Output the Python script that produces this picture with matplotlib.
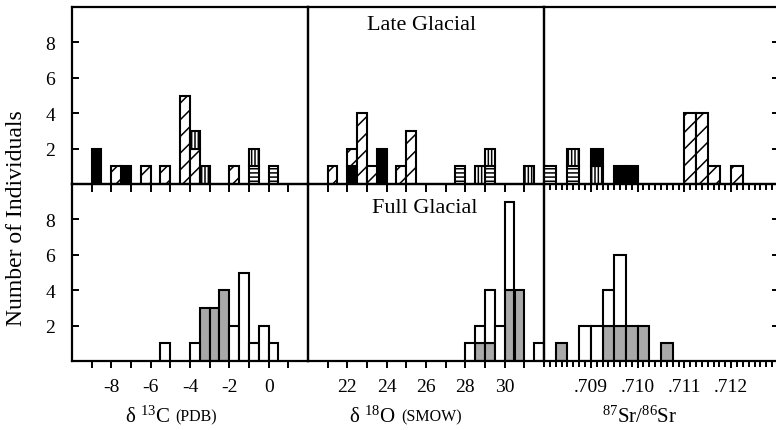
import numpy as np
import matplotlib
matplotlib.use("Agg")
import matplotlib.pyplot as plt
from matplotlib.ticker import FixedLocator, MultipleLocator

plt.rcParams['font.family'] = ['Liberation Serif', 'DejaVu Serif']
plt.rcParams['mathtext.fontset'] = 'custom'
plt.rcParams['mathtext.rm'] = 'Liberation Serif'
plt.rcParams['mathtext.it'] = 'Liberation Serif:italic'
plt.rcParams['axes.unicode_minus'] = False
plt.rcParams['hatch.linewidth'] = 1.1

# =============================================================================
# data: left edge of each bin and the counts per category

# delta 13C, late glacial (bin width 0.5)
c13_late_bins = [-9.0, -8.0, -7.5, -6.5, -5.5, -4.5, -4.0, -3.5, -2.0, -1.0, 0.0]
c13_late_black = [2, 0, 1, 0, 0, 0, 0, 0, 0, 0, 0]
c13_late_hatch = [0, 1, 0, 1, 1, 5, 2, 0, 1, 0, 0]
c13_late_horiz = [0, 0, 0, 0, 0, 0, 0, 0, 0, 1, 1]
c13_late_vert = [0, 0, 0, 0, 0, 0, 1, 1, 0, 1, 0]

# delta 13C, full glacial
c13_full_bins = [-5.5, -4.0, -3.5, -3.0, -2.5, -2.0, -1.5, -1.0, -0.5, 0.0]
c13_full_gray = [0, 0, 3, 3, 4, 0, 0, 0, 0, 0]
c13_full_white = [1, 1, 0, 0, 0, 2, 5, 1, 2, 1]

# delta 18O, late glacial (bin width 0.5)
o18_late_bins = [21.0, 22.0, 22.5, 23.0, 23.5, 24.5, 25.0, 27.5, 28.5, 29.0, 31.0]
o18_late_black = [0, 1, 0, 0, 2, 0, 0, 0, 0, 0, 0]
o18_late_hatch = [1, 1, 4, 1, 0, 1, 3, 0, 0, 0, 0]
o18_late_horiz = [0, 0, 0, 0, 0, 0, 0, 1, 0, 1, 0]
o18_late_vert = [0, 0, 0, 0, 0, 0, 0, 0, 1, 1, 1]

# delta 18O, full glacial
o18_full_bins = [28.0, 28.5, 29.0, 29.5, 30.0, 30.5, 31.5]
o18_full_gray = [0, 1, 1, 0, 4, 4, 0]
o18_full_white = [1, 1, 3, 2, 5, 0, 1]

# 87Sr/86Sr, late glacial (bin width 0.00025)
sr_late_bins = [0.708, 0.7085, 0.709, 0.7095, 0.70975, 0.711, 0.71125, 0.7115, 0.712]
sr_late_horiz = [1, 1, 0, 0, 0, 0, 0, 0, 0]
sr_late_vert = [0, 1, 1, 0, 0, 0, 0, 0, 0]
sr_late_black = [0, 0, 1, 1, 1, 0, 0, 0, 0]
sr_late_hatch = [0, 0, 0, 0, 0, 4, 4, 1, 1]

# 87Sr/86Sr, full glacial
sr_full_bins = [0.70825, 0.70875, 0.709, 0.70925, 0.7095, 0.70975, 0.710, 0.7105]
sr_full_gray = [1, 0, 0, 2, 2, 2, 2, 1]
sr_full_white = [0, 2, 2, 2, 4, 0, 0, 0]

c13_ticks = [-8, -6, -4, -2, 0]
o18_ticks = [22, 24, 26, 28, 30]
sr_ticks = [0.709, 0.710, 0.711, 0.712]
sr_labels = ['.709', '.710', '.711', '.712']
y_ticks = [2, 4, 6, 8]

# =============================================================================

STYLE = {
  'black': dict(facecolor='black'),
  'hatch': dict(facecolor='white', hatch='//'),
  'vert': dict(facecolor='white', hatch='|||||'),
  'horiz': dict(facecolor='white', hatch='----'),
  'gray': dict(facecolor='#a9a9a9'),
  'white': dict(facecolor='white'),
}


def stack(ax, bins, width, layers):
  bins = np.array(bins)
  bottom = np.zeros(len(bins))
  for counts, name in layers:
    counts = np.array(counts, dtype=float)
    keep = counts > 0
    ax.bar(bins[keep], counts[keep], width, bottom=bottom[keep], align='edge',
           edgecolor='black', linewidth=1.5, zorder=2, **STYLE[name])
    bottom += counts


def style_axis(ax, col, row):
  ax.patch.set_visible(False)
  for s in ax.spines.values():
    s.set_linewidth(1.6)
  ax.set_ylim(0, 10)
  ax.yaxis.set_major_locator(FixedLocator(y_ticks))
  if col == 0:
    ax.tick_params(axis='y', direction='in', length=5, width=1.4, labelsize=14,
                   pad=12, left=True, right=False)
  elif col == 2:
    ax.tick_params(axis='y', direction='in', length=4, width=1.4, left=False,
                   right=True, labelleft=False)
  else:
    ax.tick_params(axis='y', left=False, right=False, labelleft=False)
  ax.tick_params(axis='x', which='both', direction='out', width=1.4,
                 labelsize=14, pad=7, top=False)
  ax.tick_params(axis='x', which='major', length=6 if row == 0 else 5)
  ax.tick_params(axis='x', which='minor', length=(6 if row == 0 else 5) if col < 2 else 4)
  if row == 0:
    ax.tick_params(axis='x', which='both', labelbottom=False)


def main():
  fig = plt.figure(figsize=(7.76, 4.31), dpi=100)
  xs = [72 / 776, 308 / 776, 544 / 776, 778 / 776]
  ybot, ymid, ytop = 1 - 362 / 431, 1 - 185 / 431, 1 - 8 / 431

  axes = {}
  for row, (y0, y1) in enumerate([(ymid, ytop), (ybot, ymid)]):
    for col in range(3):
      axes[row, col] = fig.add_axes([xs[col], y0, xs[col + 1] - xs[col], y1 - y0])

  # delta 13C
  for row in range(2):
    ax = axes[row, 0]
    ax.set_xlim(-10, 2)
    ax.xaxis.set_major_locator(FixedLocator(c13_ticks))
    ax.xaxis.set_minor_locator(FixedLocator([-9, -7, -5, -3, -1, 1]))
    ax.set_xticklabels([str(t) for t in c13_ticks])
  stack(axes[0, 0], c13_late_bins, 0.5,
        [(c13_late_black, 'black'), (c13_late_hatch, 'hatch'),
         (c13_late_horiz, 'horiz'), (c13_late_vert, 'vert')])
  stack(axes[1, 0], c13_full_bins, 0.5,
        [(c13_full_gray, 'gray'), (c13_full_white, 'white')])

  # delta 18O
  for row in range(2):
    ax = axes[row, 1]
    ax.set_xlim(20, 32)
    ax.xaxis.set_major_locator(FixedLocator(o18_ticks))
    ax.xaxis.set_minor_locator(FixedLocator([21, 23, 25, 27, 29, 31]))
    ax.set_xticklabels([str(t) for t in o18_ticks])
  stack(axes[0, 1], o18_late_bins, 0.5,
        [(o18_late_black, 'black'), (o18_late_hatch, 'hatch'),
         (o18_late_horiz, 'horiz'), (o18_late_vert, 'vert')])
  stack(axes[1, 1], o18_full_bins, 0.5,
        [(o18_full_gray, 'gray'), (o18_full_white, 'white')])

  # strontium
  for row in range(2):
    ax = axes[row, 2]
    ax.set_xlim(0.708, 0.713)
    ax.xaxis.set_major_locator(FixedLocator(sr_ticks))
    ax.xaxis.set_minor_locator(MultipleLocator(0.000125))
    ax.set_xticklabels(sr_labels)
  stack(axes[0, 2], sr_late_bins, 0.00025,
        [(sr_late_horiz, 'horiz'), (sr_late_vert, 'vert'),
         (sr_late_black, 'black'), (sr_late_hatch, 'hatch')])
  stack(axes[1, 2], sr_full_bins, 0.00025,
        [(sr_full_gray, 'gray'), (sr_full_white, 'white')])

  for (row, col), ax in axes.items():
    style_axis(ax, col, row)

  axes[0, 1].text(0.48, 0.9, 'Late Glacial', transform=axes[0, 1].transAxes,
                  ha='center', va='center', fontsize=16)
  axes[1, 1].text(0.495, 0.865, 'Full Glacial', transform=axes[1, 1].transAxes,
                  ha='center', va='center', fontsize=16)

  fig.text(17 / 776, 1 - 218 / 431, 'Number of Individuals', rotation=90,
           ha='center', va='center', fontsize=17)

  # x labels
  ylab = 1 - 417 / 431
  t1 = fig.text(125 / 776, ylab, r'δ $^{13}$C', ha='left', va='center', fontsize=15)
  axes[1, 0].annotate('(PDB)', xy=(1, 0), xycoords=t1, xytext=(4, 1.5),
                      textcoords='offset points', ha='left', va='bottom',
                      fontsize=11.5, annotation_clip=False)
  t2 = fig.text(349 / 776, ylab, r'δ $^{18}$O', ha='left', va='center', fontsize=15)
  axes[1, 1].annotate('(SMOW)', xy=(1, 0), xycoords=t2, xytext=(4, 1.5),
                      textcoords='offset points', ha='left', va='bottom',
                      fontsize=11.5, annotation_clip=False)
  fig.text(602 / 776, ylab, r'$^{87}$Sr/$^{86}$Sr', ha='left', va='center',
           fontsize=15)

  fig.savefig('out.png', dpi=100)


if __name__ == "__main__":
  main()
